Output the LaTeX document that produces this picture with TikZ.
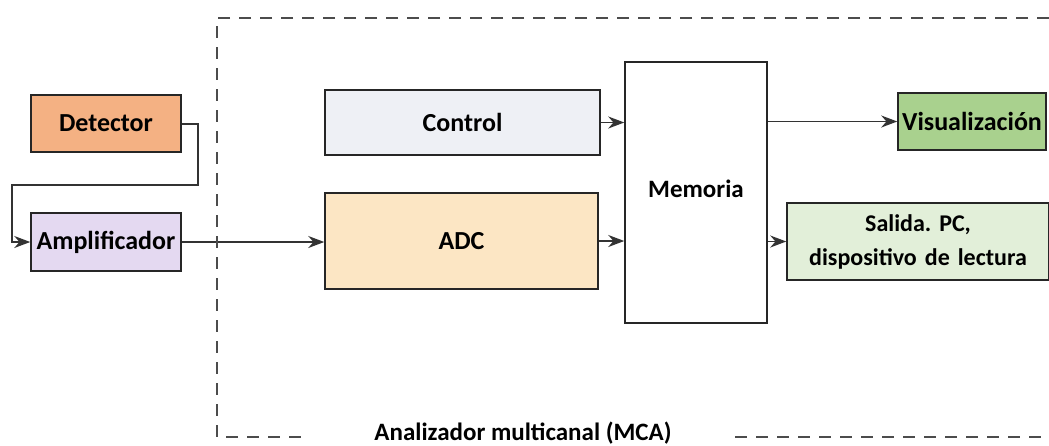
\documentclass[tikz,border=0pt]{standalone}
\usepackage{fontspec}
\setmainfont{Carlito}
\usetikzlibrary{arrows.meta}
\definecolor{cdet}{HTML}{F4B183}
\definecolor{camp}{HTML}{E4D9F1}
\definecolor{cctl}{HTML}{EEF0F5}
\definecolor{cadc}{HTML}{FCE6C4}
\definecolor{cvis}{HTML}{A9D18E}
\definecolor{csal}{HTML}{E2EFD9}
\tikzset{
  blk/.style={draw=black!85, line width=1.5pt, inner sep=0pt, font=\fontsize{26}{30}\selectfont\bfseries, align=center},
  conn/.style={draw=black!80, line width=1.6pt, -{Stealth[length=16pt,width=12pt]}},
  frame/.style={draw=black!70, line width=2pt, dash pattern=on 12pt off 9pt}
}
\frenchspacing
\begin{document}
\begin{tikzpicture}[x=1pt,y=-1pt]
\useasboundingbox (0,0) rectangle (1049,445);
% blocks
\node[blk, fill=cdet, minimum width=150pt, minimum height=57pt] (det) at (106,123.5) {Detector};
\node[blk, fill=camp, minimum width=150pt, minimum height=58pt] (amp) at (106,242) {Amplificador};
\node[blk, fill=cctl, minimum width=275pt, minimum height=65pt] (ctl) at (462.5,122.5) {Control};
\node[blk, fill=cadc, minimum width=273pt, minimum height=96pt] (adc) at (461.5,241) {ADC};
\node[blk, fill=white, minimum width=142pt, minimum height=261pt] (mem) at (696,192.5) {};
\node[font=\fontsize{25}{30}\selectfont\bfseries] (memt) at (696,189) {Memoria};
\node[blk, fill=csal, minimum width=262pt, minimum height=77pt, text width=258pt, font=\fontsize{24}{34}\selectfont\bfseries] (sal) at (918,241.5) {Salida. PC,\\dispositivo de lectura};
\node[blk, fill=cvis, minimum width=148pt, minimum height=57pt] (vis) at (972,121.5) {Visualización};
% connectors
\coordinate (c1) at (198,124);
\coordinate (c2) at (198,185);
\coordinate (c3) at (12,185);
\coordinate (c4) at (12,242);
\draw[conn] (det.east |- c1) -- (c1) -- (c2) -- (c3) -- (c4) -- (amp.west);
\draw[conn] (amp.east) -- (amp.east -| adc.west);
\draw[conn] (ctl.east) -- (ctl.east -| mem.west);
\draw[conn] (adc.east) -- (adc.east -| mem.west);
\draw[conn] (mem.east |- vis.west) -- (vis.west);
\draw[conn] (mem.east |- sal.west) -- (sal.west);
% MCA frame
\node[font=\fontsize{25}{28}\selectfont\bfseries] (lab) at (523,433) {Analizador multicanal (MCA)};
\coordinate (f1) at (1049,18);
\coordinate (f2) at (217,18);
\coordinate (f3) at (217,437);
\coordinate (f4) at (306,437);
\coordinate (f5) at (735,437);
\coordinate (f6) at (1049,437);
\draw[frame] (f1) -- (f2) -- (f3) -- (f4);
\draw[frame] (f5) -- (f6);
\end{tikzpicture}
\end{document}
